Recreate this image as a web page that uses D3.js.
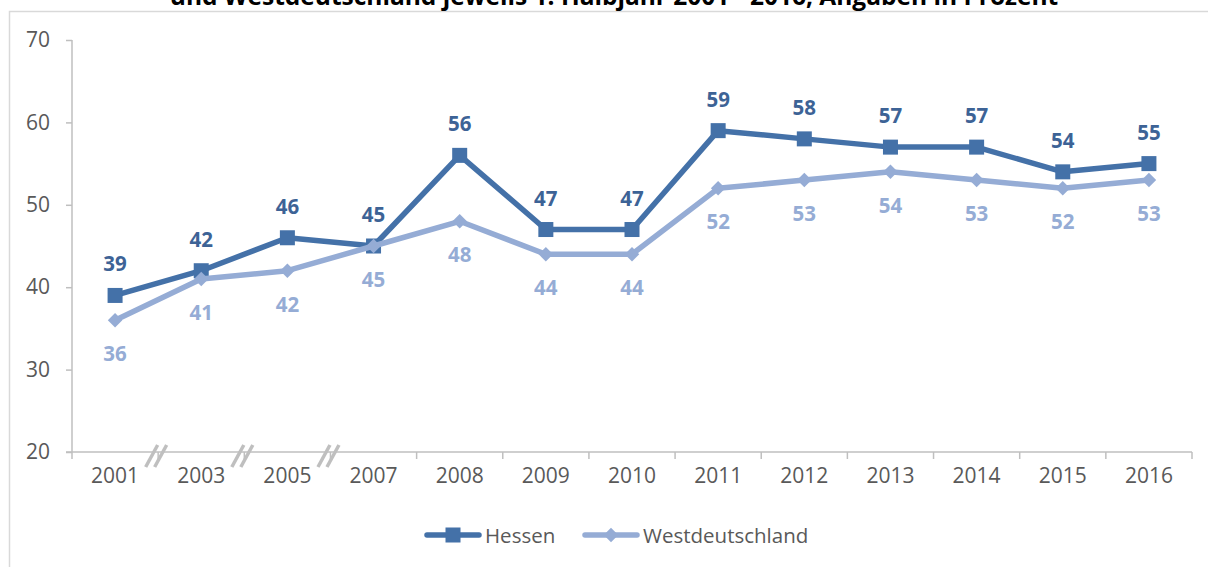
<!DOCTYPE html>
<html>
<head>
<meta charset="utf-8">
<script src="https://cdn.jsdelivr.net/npm/d3@7"></script>
<style>
  html, body { margin: 0; padding: 0; background: #fff; }
  svg { display: block; }
</style>
</head>
<body>
<script>
const title = "und Westdeutschland jeweils 1. Halbjahr 2001 - 2016, Angaben in Prozent";
const years = ["2001","2003","2005","2007","2008","2009","2010","2011","2012","2013","2014","2015","2016"];
const hessen = [39,42,46,45,56,47,47,59,58,57,57,54,55];
const west = [36,41,42,45,48,44,44,52,53,54,53,52,53];
const yTicks = [20,30,40,50,60,70];
const breakAfter = ["2001","2003","2005"];
const seriesNames = ["Hessen","Westdeutschland"];

const W = 1208, H = 567;
const cHessen = "#4471A8", cHessenLbl = "#3D6396";
const cWest = "#95ACD5";
const axisCol = "#BFBFBF", txtCol = "#595959";
const font = "'Open Sans', 'DejaVu Sans', sans-serif";

const svg = d3.select("body").append("svg").attr("width", W).attr("height", H);

// frame
svg.append("rect").attr("x", 9.5).attr("y", 11.5).attr("width", W + 20).attr("height", H + 20)
  .attr("fill", "none").attr("stroke", "#D9D9D9").attr("stroke-width", 1.5);

// title (cut at top, as in the reference)
svg.append("text").attr("x", 614).attr("y", 5).attr("text-anchor", "middle")
  .attr("font-family", font).attr("font-weight", "bold").attr("font-size", 24.5)
  .attr("fill", "#000").text(title);

const x = d3.scaleBand().domain(years).range([72, 1192]).padding(0);
const y = d3.scaleLinear().domain([20, 70]).range([452, 40]);
const cx = d => x(d) + x.bandwidth() / 2;

// y axis
const yAxis = svg.append("g").attr("transform", "translate(72,0)")
  .call(d3.axisLeft(y).tickValues(yTicks).tickSize(6).tickPadding(16).tickSizeOuter(0));
yAxis.select(".domain").remove();
yAxis.selectAll(".tick line").attr("stroke", axisCol).attr("stroke-width", 1.5);
yAxis.selectAll(".tick text").attr("font-family", font).attr("font-size", 21).attr("fill", txtCol);
svg.append("line").attr("x1", 72).attr("x2", 72).attr("y1", y(70)).attr("y2", y(20) + 7)
  .attr("stroke", axisCol).attr("stroke-width", 1.5);

// x axis
const xAxis = svg.append("g").attr("transform", `translate(0,${y(20)})`)
  .call(d3.axisBottom(x).tickSize(0).tickPadding(16));
xAxis.select(".domain").remove();
xAxis.selectAll(".tick text").attr("font-family", font).attr("font-size", 21).attr("fill", txtCol);
svg.append("line").attr("x1", x.range()[0] - 6).attr("x2", x.range()[1]).attr("y1", y(20)).attr("y2", y(20))
  .attr("stroke", axisCol).attr("stroke-width", 1.5);
const bounds = years.map(d => x(d)).concat([x.range()[1]]);
svg.selectAll(".xb").data(bounds.slice(1)).enter().append("line")
  .attr("x1", d => d).attr("x2", d => d).attr("y1", y(20)).attr("y2", y(20) + 7)
  .attr("stroke", axisCol).attr("stroke-width", 1.5);

// break marks
breakAfter.forEach(d => {
  const bx = x(d) + x.bandwidth() - 2, by = y(20) + 4;
  [-4.5, 4.5].forEach(o => {
    svg.append("line").attr("x1", bx + o - 6).attr("y1", by + 11).attr("x2", bx + o + 6).attr("y2", by - 11)
      .attr("stroke", axisCol).attr("stroke-width", 3.5);
  });
});

const line = d3.line().x((d, i) => cx(years[i])).y(d => y(d));

// Hessen
svg.append("path").datum(hessen).attr("d", line).attr("fill", "none")
  .attr("stroke", cHessen).attr("stroke-width", 5.5).attr("stroke-linejoin", "round");
svg.selectAll(".mh").data(hessen).enter().append("rect")
  .attr("x", (d, i) => cx(years[i]) - 7.5).attr("y", d => y(d) - 7.5)
  .attr("width", 15).attr("height", 15).attr("fill", cHessen);

// West
svg.append("path").datum(west).attr("d", line).attr("fill", "none")
  .attr("stroke", cWest).attr("stroke-width", 5.5).attr("stroke-linejoin", "round");
svg.selectAll(".mw").data(west).enter().append("path")
  .attr("d", d3.symbol().type(d3.symbolSquare).size(105))
  .attr("transform", (d, i) => `translate(${cx(years[i])},${y(d)}) rotate(45)`)
  .attr("fill", cWest);

// labels
svg.selectAll(".lh").data(hessen).enter().append("text")
  .attr("x", (d, i) => cx(years[i])).attr("y", d => y(d) - 24)
  .attr("text-anchor", "middle").attr("font-family", font).attr("font-weight", "bold")
  .attr("font-size", 20.5).attr("fill", cHessenLbl).text(d => d);
svg.selectAll(".lw").data(west).enter().append("text")
  .attr("x", (d, i) => cx(years[i])).attr("y", d => y(d) + 41)
  .attr("text-anchor", "middle").attr("font-family", font).attr("font-weight", "bold")
  .attr("font-size", 20.5).attr("fill", cWest).text(d => d);

// legend
const legend = [
  {name: seriesNames[0], color: cHessen, x1: 427, shape: "square"},
  {name: seriesNames[1], color: cWest, x1: 585, shape: "diamond"}
];
legend.forEach(l => {
  const ly = 535;
  svg.append("line").attr("x1", l.x1).attr("x2", l.x1 + 52).attr("y1", ly).attr("y2", ly)
    .attr("stroke", l.color).attr("stroke-width", 5.5).attr("stroke-linecap", "round");
  if (l.shape === "square") {
    svg.append("rect").attr("x", l.x1 + 26 - 7.5).attr("y", ly - 7.5).attr("width", 15).attr("height", 15).attr("fill", l.color);
  } else {
    svg.append("path").attr("d", d3.symbol().type(d3.symbolSquare).size(105))
      .attr("transform", `translate(${l.x1 + 26},${ly}) rotate(45)`).attr("fill", l.color);
  }
  svg.append("text").attr("x", l.x1 + 58).attr("y", ly + 8).attr("font-family", font)
    .attr("font-size", 20.5).attr("fill", txtCol).text(l.name);
});
</script>
</body>
</html>
